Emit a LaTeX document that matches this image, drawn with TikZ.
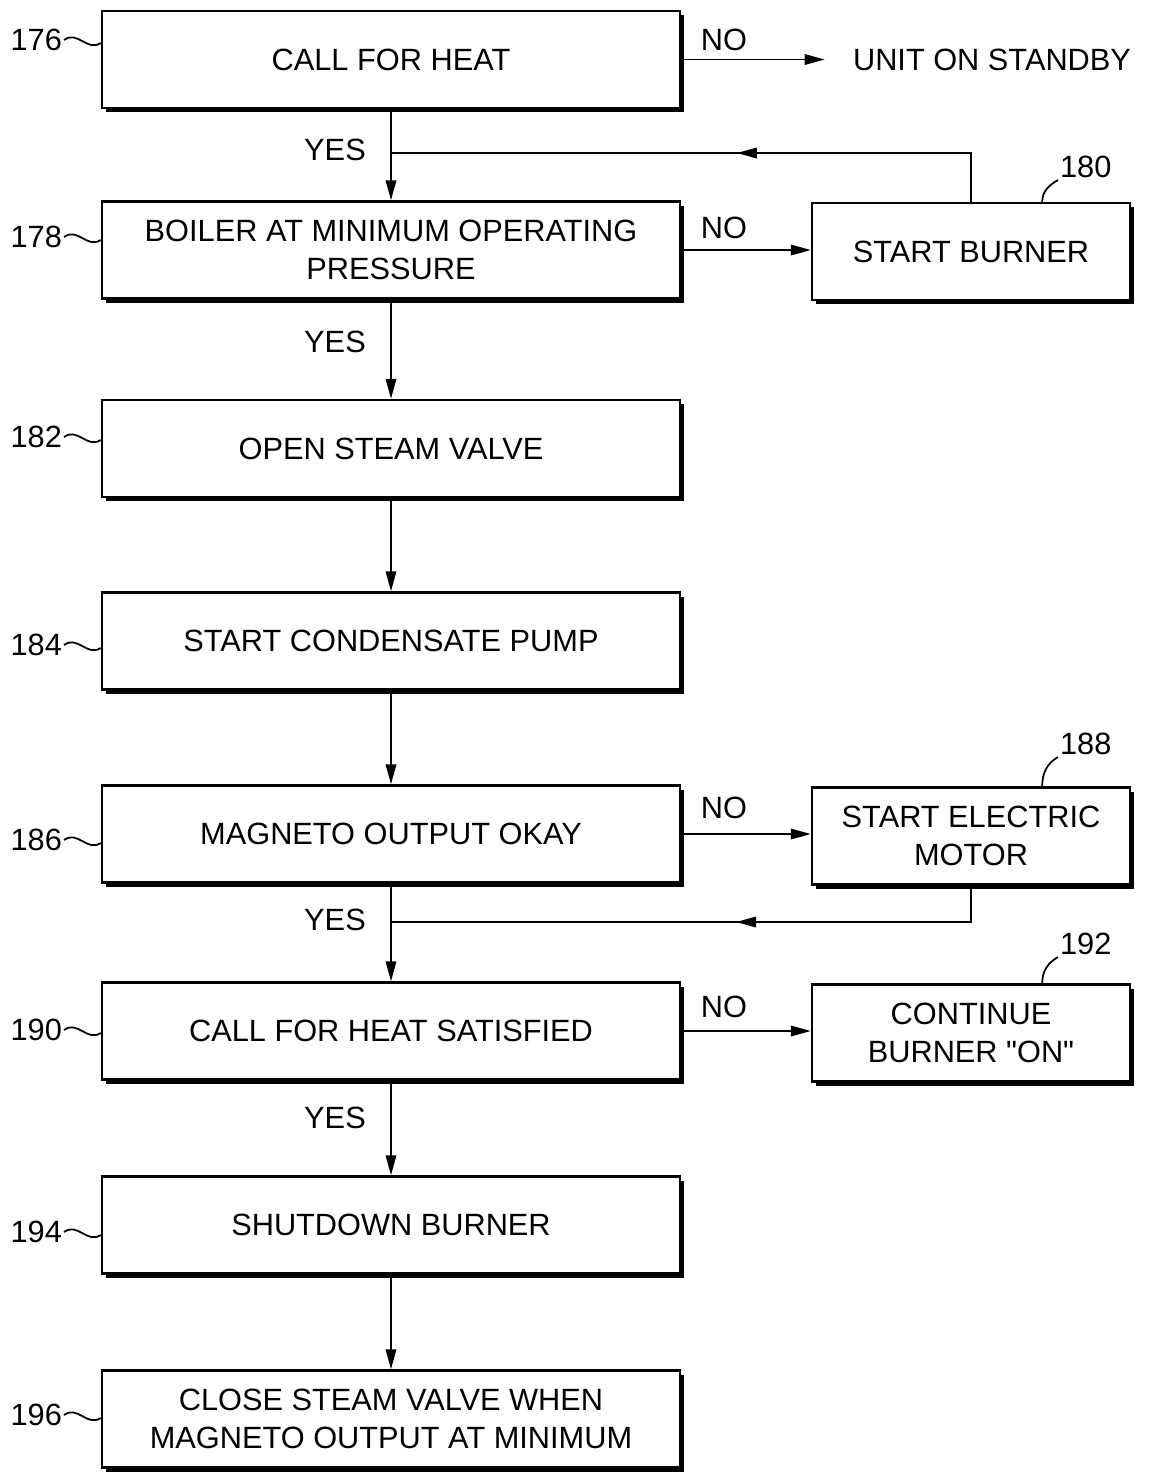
\documentclass[tikz,border=0pt]{standalone}
\usepackage{fontspec}
\setmainfont{Liberation Sans}[Ligatures=TeXOff]
\usetikzlibrary{arrows.meta,shadows,calc,decorations.markings}

\begin{document}
\begin{tikzpicture}[x=0.02cm,y=0.02cm,
  font=\fontsize{17.5}{21.5}\selectfont,
  box/.style={draw, line width=1.4pt, fill=white, align=center, minimum height=1.94cm,
    drop shadow={shadow xshift=0.08cm, shadow yshift=-0.08cm, fill=black, opacity=1}},
  mainbox/.style={box, minimum width=11.56cm},
  sidebox/.style={box, minimum width=6.36cm},
  flow/.style={line width=1.1pt, -{Triangle[length=0.4cm,width=0.21cm]}},
  back/.style={line width=1.1pt, postaction={decorate},
    decoration={markings, mark=at position #1 with {\arrow{Triangle[length=0.4cm,width=0.21cm]}}}},
  ref/.style={anchor=east, inner sep=1pt},
  sref/.style={anchor=south west, inner sep=1pt},
  tilde/.style={line width=1pt}]
\useasboundingbox (0,0) rectangle (1149,-1472);

% main column
\node [mainbox] (call)    at (391,-59.5) {CALL FOR HEAT};
\node [mainbox] (boiler)  at (391,-250) {BOILER AT MINIMUM OPERATING\\PRESSURE};
\node [mainbox] (valve)   at (391,-448.5) {OPEN STEAM VALVE};
\node [mainbox] (pump)    at (391,-641) {START CONDENSATE PUMP};
\node [mainbox] (magneto) at (391,-834) {MAGNETO OUTPUT OKAY};
\node [mainbox] (sat)     at (391,-1031) {CALL FOR HEAT SATISFIED};
\node [mainbox] (shut)    at (391,-1225) {SHUTDOWN BURNER};
\node [mainbox] (close)   at (391,-1419) {CLOSE STEAM VALVE WHEN\\MAGNETO OUTPUT AT MINIMUM};

% side column
\node [sidebox] (burner) at (971,-251.5) {START BURNER};
\node [sidebox] (motor)  at (971,-836) {START ELECTRIC\\MOTOR};
\node [sidebox] (cont)   at (971,-1033) {CONTINUE\\BURNER "ON"};
\node [inner sep=0pt] (standby) at (992,-60) {UNIT ON STANDBY};

% main flow
\foreach \a/\b in {call/boiler, boiler/valve, valve/pump, pump/magneto,
                   magneto/sat, sat/shut, shut/close}
  \draw [flow] (\a.south) -- (\b.north);

\draw [flow, shorten >=0.56cm] (call.east) -- (call.east -| standby.west);
\draw [flow] (boiler.east) -- (boiler.east -| burner.west);
\draw [flow] (magneto.east) -- (magneto.east -| motor.west);
\draw [flow] (sat.east) -- (sat.east -| cont.west);

% returns
\coordinate (j1) at (391,-153);
\coordinate (j2) at (391,-922);
\draw [back=0.45] (burner.north) |- (j1);
\draw [back=0.44] (motor.south) |- (j2);

% YES / NO
\node (yes1) at (335,-150) {YES};
\node (yes2) at (335,-342) {YES};
\node (yes3) at (335,-920) {YES};
\node (yes4) at (335,-1118) {YES};
\node (no1) at (724,-40) {NO};
\node (no2) at (724,-228) {NO};
\node (no3) at (724,-808) {NO};
\node (no4) at (724,-1007) {NO};

% reference numerals
\foreach \n/\y/\b in {176/40/call, 178/237/boiler, 182/437/valve, 184/645/pump,
                      186/840/magneto, 190/1030/sat, 194/1232/shut, 196/1415/close}{
  \node [ref] (l\n) at (64,-\y) {\n};
  \draw [tilde] (l\n.east) .. controls +(14,10) and +(-14,-9) .. ($(l\n.east -| \b.west)+(0,-3)$);
}
\foreach \n/\y/\b in {180/180/burner, 188/757/motor, 192/957/cont}{
  \node [sref] (l\n) at (1058,-\y) {\n};
  \draw [tilde] ($(\b.north east)+(-89,0)$) to[out=90,in=210] (l\n.south west);
}
\end{tikzpicture}
\end{document}
